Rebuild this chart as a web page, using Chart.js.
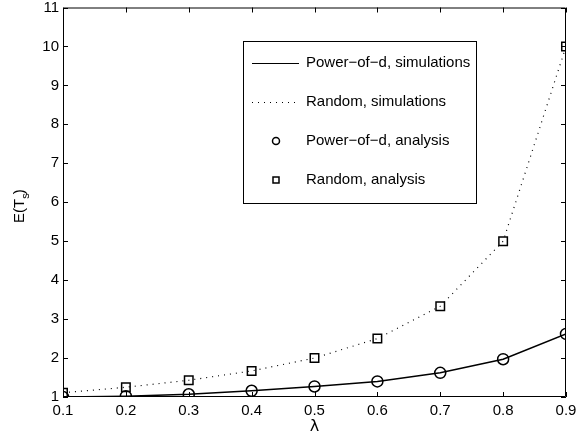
<!DOCTYPE html>
<html>
<head>
<meta charset="utf-8">
<script src="https://cdn.jsdelivr.net/npm/chart.js@4"></script>
<style>
  html, body { margin: 0; padding: 0; background: #fff; }
  #wrap { width: 576px; height: 439px; }
</style>
</head>
<body>
<div id="wrap"><canvas id="myChart" width="576" height="439"></canvas></div>
<script>
'use strict';

// data
let lambdas = [0.1, 0.2, 0.3, 0.4, 0.5, 0.6, 0.7, 0.8, 0.9];
let powerSim = [1.0, 1.02, 1.07, 1.16, 1.27, 1.40, 1.62, 1.97, 2.62];
let randomSim = [1.11, 1.25, 1.43, 1.67, 2.0, 2.5, 3.33, 5.0, 10.0];
let powerAna = [1.0, 1.02, 1.07, 1.16, 1.27, 1.40, 1.62, 1.97, 2.62];
let randomAna = [1.11, 1.25, 1.43, 1.67, 2.0, 2.5, 3.33, 5.0, 10.0];
let xTicks = [0.1, 0.2, 0.3, 0.4, 0.5, 0.6, 0.7, 0.8, 0.9];
let yTicks = [1, 2, 3, 4, 5, 6, 7, 8, 9, 10, 11];
let labels = ['Power\u2212of\u2212d, simulations', 'Random, simulations', 'Power\u2212of\u2212d, analysis', 'Random, analysis'];

const FAMILY = '"Liberation Sans", Arial, sans-serif';
const FONT = '15px ' + FAMILY;

function points(ys) {
  let out = [];
  for (let i = 0; i < lambdas.length; i++) {
    out.push({ x: lambdas[i], y: ys[i] });
  }
  return out;
}

// box, inward ticks, legend and axis titles
const matlabLook = {
  id: 'matlabLook',
  afterDraw(chart) {
    const ctx = chart.ctx;
    const a = chart.chartArea;
    const xs = chart.scales.x;
    const ys = chart.scales.y;
    ctx.save();
    ctx.strokeStyle = '#000';
    ctx.lineWidth = 1;
    ctx.beginPath();
    ctx.rect(a.left + 0.5, a.top + 0.5, a.right - a.left - 1, a.bottom - a.top - 1);
    ctx.stroke();

    ctx.beginPath();
    for (let i = 0; i < xTicks.length; i++) {
      let px = Math.round(xs.getPixelForValue(xTicks[i])) + 0.5;
      ctx.moveTo(px, a.bottom);
      ctx.lineTo(px, a.bottom - 5);
      ctx.moveTo(px, a.top);
      ctx.lineTo(px, a.top + 5);
    }
    for (let i = 0; i < yTicks.length; i++) {
      let py = Math.round(ys.getPixelForValue(yTicks[i])) + 0.5;
      ctx.moveTo(a.left, py);
      ctx.lineTo(a.left + 5, py);
      ctx.moveTo(a.right, py);
      ctx.lineTo(a.right - 5, py);
    }
    ctx.stroke();

    // legend
    let lx = 243.5, ly = 41.5, lw = 233, lh = 162;
    ctx.fillStyle = '#fff';
    ctx.fillRect(lx, ly, lw, lh);
    ctx.strokeRect(lx, ly, lw, lh);
    ctx.font = FONT;
    ctx.fillStyle = '#000';
    ctx.textBaseline = 'middle';
    ctx.textAlign = 'left';
    let rowY = [63, 102, 141, 180];
    for (let i = 0; i < labels.length; i++) {
      let y = rowY[i];
      ctx.fillText(labels[i], 306, y);
      ctx.beginPath();
      if (i === 0) {
        ctx.moveTo(252, y + 0.5);
        ctx.lineTo(299, y + 0.5);
        ctx.stroke();
      } else if (i === 1) {
        ctx.setLineDash([1, 5]);
        ctx.moveTo(252, y + 0.5);
        ctx.lineTo(299, y + 0.5);
        ctx.stroke();
        ctx.setLineDash([]);
      } else if (i === 2) {
        ctx.lineWidth = 1.5;
        ctx.arc(276, y, 3.5, 0, Math.PI * 2);
        ctx.stroke();
        ctx.lineWidth = 1;
      } else {
        ctx.lineWidth = 1.5;
        ctx.rect(273, y - 3, 6, 6);
        ctx.stroke();
        ctx.lineWidth = 1;
      }
    }

    // axis titles
    ctx.textAlign = 'center';
    ctx.font = '16px "DejaVu Sans", sans-serif';
    ctx.fillText('\u03bb', (a.left + a.right) / 2, 427);

    ctx.translate(20, 202);
    ctx.rotate(-Math.PI / 2);
    ctx.font = FONT;
    ctx.textAlign = 'left';
    let w1 = ctx.measureText('E(T').width;
    ctx.fillText('E(T', -21, 0);
    ctx.font = '11px ' + FAMILY;
    ctx.fillText('s', -21 + w1, 6);
    let w2 = ctx.measureText('s').width;
    ctx.font = FONT;
    ctx.fillText(')', -21 + w1 + w2 - 1, 0);
    ctx.restore();
  }
};

const ctx = document.getElementById('myChart').getContext('2d');
const myChart = new Chart(ctx, {
  type: 'line',
  data: {
    datasets: [{
      label: labels[0],
      data: points(powerSim),
      borderColor: '#000',
      borderWidth: 1.5,
      pointRadius: 0,
      fill: false
    }, {
      label: labels[1],
      data: points(randomSim),
      borderColor: '#000',
      borderWidth: 1.2,
      borderDash: [1, 5],
      pointRadius: 0,
      fill: false
    }, {
      label: labels[2],
      data: points(powerAna),
      showLine: false,
      pointStyle: 'circle',
      pointRadius: 5.5,
      pointBorderWidth: 1.5,
      pointBorderColor: '#000',
      pointBackgroundColor: 'rgba(0,0,0,0)'
    }, {
      label: labels[3],
      data: points(randomAna),
      showLine: false,
      pointStyle: 'rect',
      pointRadius: 6,
      pointBorderWidth: 1.5,
      pointBorderColor: '#000',
      pointBackgroundColor: 'rgba(0,0,0,0)'
    }]
  },
  options: {
    responsive: false,
    animation: false,
    layout: { padding: { left: 0, right: 10, top: 6, bottom: 0 } },
    plugins: {
      legend: { display: false },
      tooltip: { enabled: false }
    },
    scales: {
      x: {
        type: 'linear',
        min: 0.1,
        max: 0.9,
        grid: { display: false, drawTicks: false },
        border: { display: false },
        afterFit(scale) {
          scale.height = 42;
          scale.paddingLeft = 0;
          scale.paddingRight = 0;
        },
        afterBuildTicks(scale) { scale.ticks = xTicks.map(v => ({ value: v })); },
        ticks: {
          color: '#000',
          font: { family: FAMILY, size: 15 },
          padding: 5,
          maxRotation: 0,
          callback: v => v.toFixed(1)
        }
      },
      y: {
        min: 1,
        max: 11,
        grid: { display: false, drawTicks: false },
        border: { display: false },
        afterFit(scale) {
          scale.width = 63;
          scale.paddingTop = 0;
          scale.paddingBottom = 0;
        },
        afterBuildTicks(scale) { scale.ticks = yTicks.map(v => ({ value: v })); },
        ticks: {
          color: '#000',
          font: { family: FAMILY, size: 15 },
          padding: 4
        }
      }
    }
  },
  plugins: [matlabLook]
});
</script>
</body>
</html>
